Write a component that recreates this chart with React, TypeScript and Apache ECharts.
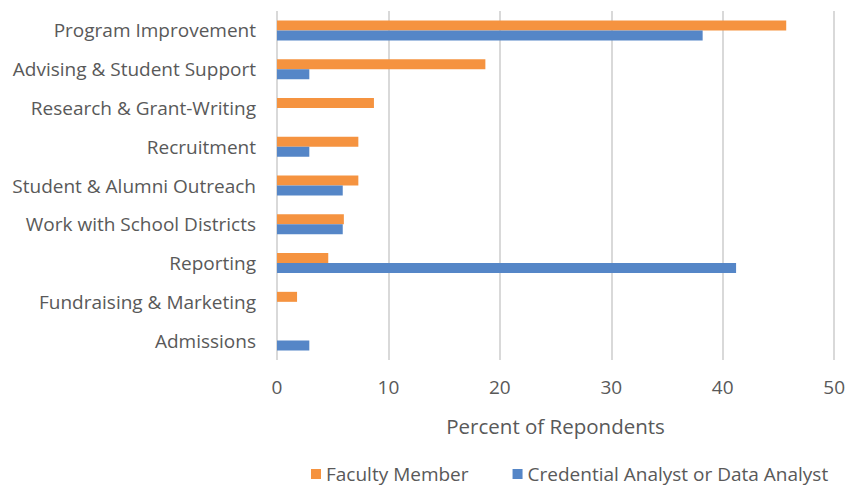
import React, { useEffect, useRef } from "react";
import * as echarts from "echarts";

const categories = [
  "Program Improvement",
  "Advising & Student Support",
  "Research & Grant-Writing",
  "Recruitment",
  "Student & Alumni Outreach",
  "Work with School Districts",
  "Reporting",
  "Fundraising & Marketing",
  "Admissions",
];
const facultyValues = [45.7, 18.7, 8.7, 7.3, 7.3, 6.0, 4.6, 1.8, 0];
const analystValues = [38.2, 2.9, 0, 2.9, 5.9, 5.9, 41.2, 0, 2.9];
const xTicks = { min: 0, max: 50, interval: 10 };

const FONT = "'Open Sans', sans-serif";

export default function App() {
  const ref = useRef<HTMLDivElement>(null);
  useEffect(() => {
    if (!ref.current) return;
    const chart = echarts.init(ref.current, null, { renderer: "svg" });
    chart.setOption({
      animation: false,
      textStyle: { fontFamily: FONT },
      grid: { left: 277, right: 11, top: 11, bottom: 129, containLabel: false },
      xAxis: {
        type: "value",
        min: xTicks.min,
        max: xTicks.max,
        interval: xTicks.interval,
        name: "Percent of Repondents",
        nameLocation: "middle",
        nameGap: 55,
        nameTextStyle: { color: "#595959", fontSize: 20.5, fontFamily: FONT },
        axisLine: { show: false },
        axisTick: { show: false },
        axisLabel: { color: "#595959", fontSize: 19, margin: 17, fontFamily: FONT },
        splitLine: { show: true, lineStyle: { color: "#d9d9d9", width: 2 } },
      },
      yAxis: {
        type: "category",
        data: categories,
        inverse: true,
        axisLine: { show: false },
        axisTick: { show: false },
        axisLabel: { color: "#595959", fontSize: 19, margin: 21, fontFamily: FONT },
        splitLine: { show: false },
      },
      legend: {
        top: 463,
        left: 311,
        padding: 0,
        itemWidth: 10,
        itemHeight: 10,
        itemGap: 44,
        icon: "rect",
        textStyle: { color: "#595959", fontSize: 19, fontFamily: FONT, lineHeight: 22 },
        data: ["Faculty Member", "Credential Analyst or Data Analyst"],
      },
      series: [
        {
          name: "Faculty Member",
          type: "bar",
          data: facultyValues,
          barWidth: 10,
          barGap: "0%",
          itemStyle: { color: "#F59340" },
        },
        {
          name: "Credential Analyst or Data Analyst",
          type: "bar",
          data: analystValues,
          barWidth: 10,
          barGap: "0%",
          itemStyle: { color: "#5586C7" },
        },
      ],
    });
    return () => chart.dispose();
  }, []);
  return <div ref={ref} style={{ width: 848, height: 489, position: "absolute", left: 0, top: 0, background: "#fff" }} />;
}
